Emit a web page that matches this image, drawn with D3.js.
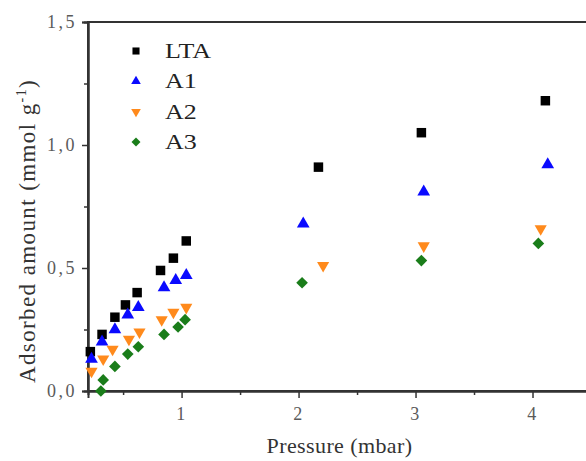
<!DOCTYPE html>
<html>
<head>
<meta charset="utf-8">
<script src="https://cdn.jsdelivr.net/npm/d3@7"></script>
<style>
  html, body { margin: 0; padding: 0; background: #fff; }
  svg { display: block; }
  svg text { font-family: "Liberation Serif", Tinos, "Times New Roman", Times, serif; }
</style>
</head>
<body>
<svg id="chart" width="586" height="461"></svg>
<script>
// Adsorption isotherms: pressure (mbar) vs adsorbed amount (mmol g-1)
const seriesNames = ["LTA", "A1", "A2", "A3"];

const ltaPressure = [0.22, 0.32, 0.43, 0.52, 0.62, 0.82, 0.93, 1.04, 2.17, 3.05, 4.11];
const ltaAmount   = [0.16, 0.23, 0.30, 0.35, 0.40, 0.49, 0.54, 0.61, 0.91, 1.05, 1.18];

const a1Pressure = [0.23, 0.32, 0.43, 0.54, 0.63, 0.85, 0.95, 1.04, 2.04, 3.07, 4.13];
const a1Amount   = [0.13, 0.20, 0.25, 0.31, 0.34, 0.42, 0.45, 0.47, 0.68, 0.81, 0.92];

const a2Pressure = [0.23, 0.33, 0.41, 0.55, 0.64, 0.83, 0.93, 1.04, 2.21, 3.07, 4.07];
const a2Amount   = [0.08, 0.13, 0.17, 0.21, 0.24, 0.29, 0.32, 0.34, 0.51, 0.59, 0.66];

const a3Pressure = [0.31, 0.33, 0.43, 0.54, 0.63, 0.85, 0.97, 1.03, 2.03, 3.05, 4.05];
const a3Amount   = [0.00, 0.045, 0.10, 0.15, 0.18, 0.23, 0.26, 0.29, 0.44, 0.53, 0.60];

const xMajorTicks = [1, 2, 3, 4];
const xMinorTicks = [0.5, 1.5, 2.5, 3.5];
const yMajorTicks = [0, 0.5, 1.0, 1.5];
const yMinorTicks = [0.25, 0.75, 1.25];

const xTitle = "Pressure (mbar)";

const colors = { LTA: "#000000", A1: "#0a0aff", A2: "#ff8a1c", A3: "#1a7d1a" };

const series = [
  { name: "LTA", x: ltaPressure, y: ltaAmount, shape: "square" },
  { name: "A1",  x: a1Pressure,  y: a1Amount,  shape: "up" },
  { name: "A2",  x: a2Pressure,  y: a2Amount,  shape: "down" },
  { name: "A3",  x: a3Pressure,  y: a3Amount,  shape: "diamond" }
];

const svg = d3.select("#chart");
const margin = { left: 88, top: 22, right: 591, bottom: 391 };

const x = d3.scaleLinear().domain([0.2, 4.5]).range([margin.left, margin.right]);
const y = d3.scaleLinear().domain([0, 1.5]).range([margin.bottom, margin.top]);

const axisColor = "#333";
const labelColor = "#5a5a5a";

// frame
svg.append("rect")
  .attr("x", margin.left).attr("y", margin.top)
  .attr("width", margin.right - margin.left)
  .attr("height", margin.bottom - margin.top)
  .attr("fill", "none").attr("stroke", axisColor).attr("stroke-width", 2);

// x axis: major ticks with labels, minor ticks without
svg.append("g").attr("transform", `translate(0,${margin.bottom})`)
  .call(d3.axisBottom(x).tickValues(xMajorTicks).tickSize(7).tickPadding(9)
    .tickFormat(d3.format("d")));
svg.append("g").attr("transform", `translate(0,${margin.bottom})`)
  .call(d3.axisBottom(x).tickValues(xMinorTicks).tickSize(4).tickFormat(""));

// y axis
const fmtY = v => d3.format(".1f")(v).replace(".", ",");
svg.append("g").attr("transform", `translate(${margin.left},0)`)
  .call(d3.axisLeft(y).tickValues(yMajorTicks).tickSize(6).tickPadding(5).tickFormat(fmtY));
svg.append("g").attr("transform", `translate(${margin.left},0)`)
  .call(d3.axisLeft(y).tickValues(yMinorTicks).tickSize(4).tickFormat(""));

svg.selectAll("g").attr("font-family", null);
svg.selectAll(".domain").attr("stroke", axisColor).attr("stroke-width", 2);
svg.selectAll(".tick line").attr("stroke", axisColor).attr("stroke-width", 1.5);
svg.selectAll(".tick text")
  .attr("fill", labelColor)
  .style("font-size", "18px")
  .style("letter-spacing", "2.5px");

// axis titles
svg.append("text")
  .attr("x", (margin.left + margin.right) / 2)
  .attr("y", 453)
  .attr("text-anchor", "middle")
  .attr("fill", "#333")
  .style("font-size", "22px")
  .style("letter-spacing", "0.4px")
  .text(xTitle);

const yTitle = svg.append("text")
  .attr("transform", `translate(35,231) rotate(-90)`)
  .attr("text-anchor", "middle")
  .attr("fill", "#333")
  .style("font-size", "23px")
  .style("letter-spacing", "1.4px");
yTitle.append("tspan").text("Adsorbed amount (mmol g");
yTitle.append("tspan").attr("dy", -9).style("font-size", "14px").text("-1");
yTitle.append("tspan").attr("dy", 9).text(")");

// marker shapes
function symbolPath(shape, size) {
  if (shape === "square" || shape === "diamond") return d3.symbol(d3.symbolSquare, size)();
  return d3.symbol(d3.symbolTriangle, size)();
}
function symbolRotation(shape) {
  if (shape === "down") return 180;
  if (shape === "diamond") return 45;
  return 0;
}
const plotSize = { square: 90, up: 70, down: 64, diamond: 68 };
const legendSize = { square: 50, up: 40, down: 40, diamond: 40 };

series.forEach(s => {
  const pts = s.x.map((px, i) => ({ p: px, q: s.y[i] }));
  svg.append("g").selectAll("path").data(pts).join("path")
    .attr("d", symbolPath(s.shape, plotSize[s.shape]))
    .attr("transform", d => `translate(${x(d.p)},${y(d.q)}) rotate(${symbolRotation(s.shape)})`)
    .attr("fill", colors[s.name]);
});

// legend
const legend = svg.append("g");
const legendY = d3.scalePoint().domain(seriesNames).range([51, 142]);
series.forEach(s => {
  const ly = legendY(s.name);
  legend.append("path")
    .attr("d", symbolPath(s.shape, legendSize[s.shape]))
    .attr("transform", `translate(136,${ly}) rotate(${symbolRotation(s.shape)})`)
    .attr("fill", colors[s.name]);
  legend.append("text")
    .attr("transform", `translate(165,${ly + 7}) scale(1.3,1)`)
    .attr("fill", "#222")
    .style("font-size", "20px")
    .text(s.name);
});
</script>
</body>
</html>
